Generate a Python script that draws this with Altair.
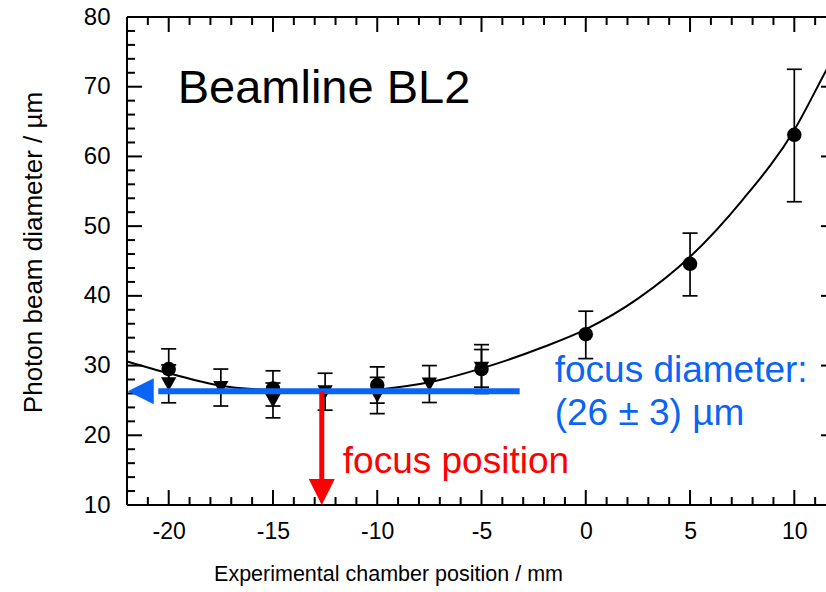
import altair as alt
import pandas as pd

# ---------------- data ----------------
circ_x = [-20, -15, -10, -5, 0, 5, 10]
circ_y = [29.5, 26.7, 27.2, 29.5, 34.5, 44.6, 63.1]
circ_lo = [26.5, 24.2, 24.6, 26.0, 31.0, 40.0, 53.5]
circ_hi = [32.4, 29.25, 29.8, 33.0, 37.8, 49.0, 72.5]

tri_x = [-20, -17.5, -15, -12.5, -10, -7.5, -5]
tri_y = [27.4, 26.85, 25.0, 26.25, 25.7, 27.35, 29.6]
tri_lo = [24.66, 24.2, 22.5, 23.6, 23.1, 24.7, 26.9]
tri_hi = [30.1, 29.5, 27.5, 28.9, 28.3, 30.0, 32.3]

fit_x = [-22, -20, -17.5, -15, -12.5, -10, -7.5, -5, -2, 0, 2.5, 5, 7.5, 10, 11.5, 12]
fit_y = [30.6, 28.9, 27.1, 26.45, 26.2, 26.55, 27.6, 29.6, 32.7, 35.2, 39.6, 45.6, 53.7, 63.8, 72.2, 75.0]

x_major = [-20, -15, -10, -5, 0, 5, 10]
x_minor = [-22, -21, -19, -18, -17, -16, -14, -13, -12, -11, -9, -8, -7, -6,
           -4, -3, -2, -1, 1, 2, 3, 4, 6, 7, 8, 9, 11]
y_major = [10, 20, 30, 40, 50, 60, 70, 80]
y_minor = [12, 14, 16, 18, 22, 24, 26, 28, 32, 34, 36, 38, 42, 44, 46, 48,
           52, 54, 56, 58, 62, 64, 66, 68, 72, 74, 76, 78]

focus_diameter = 26.3
focus_position = -12.66
arrow_blue_x = [-3.17, -20.5]
arrow_red_y = [26.3, 12.5]

# ---------------- layout / style ----------------
W, H = 699, 488
X_DOMAIN = [-22, 11.52]
Y_DOMAIN = [10, 80]
FONT = "Liberation Sans"
BLUE = "#0a64f5"
RED = "#ff0000"
PX_X = W / (X_DOMAIN[1] - X_DOMAIN[0])   # pixels per x unit
PX_Y = H / (Y_DOMAIN[1] - Y_DOMAIN[0])   # pixels per y unit
RIGHT_EDGE = X_DOMAIN[1] + 10 / PX_X     # frame lies just beyond the crop

xs = alt.Scale(domain=X_DOMAIN, nice=False, zero=False)
ys = alt.Scale(domain=Y_DOMAIN, nice=False, zero=False)

x_axis = alt.Axis(
    values=x_major, title="Experimental chamber position / mm",
    ticks=False, tickSize=0, domain=False, grid=False,
    labelFontSize=23, labelPadding=15, labelFont=FONT, labelColor="black",
    labelExpr="'' + datum.value",
    titleFont=FONT, titleFontSize=21.5, titleFontWeight="normal", titleColor="black",
    titleX=261, titleY=75, titleBaseline="alphabetic", titleAlign="center",
)
y_axis = alt.Axis(
    values=y_major, title="Photon beam diameter / µm",
    ticks=False, tickSize=0, domain=False, grid=False,
    labelFontSize=24, labelPadding=17, labelFont=FONT, labelColor="black",
    titleFont=FONT, titleFontSize=26, titleFontWeight="normal", titleColor="black",
    titleAngle=270, titleX=-94, titleY=235, titleBaseline="middle", titleAlign="center",
)


def X(field, **kw):
    return alt.X(field, type="quantitative", scale=xs, axis=x_axis, **kw)


def Y(field, **kw):
    return alt.Y(field, type="quantitative", scale=ys, axis=y_axis, **kw)


layers = []

# frame (left, top, bottom)
frame = pd.DataFrame({"k": [0]})
layers.append(alt.Chart(frame).mark_rule(color="black", strokeWidth=2).encode(
    x=alt.value(0), x2=alt.value(W + 10), y=alt.value(0)))
layers.append(alt.Chart(frame).mark_rule(color="black", strokeWidth=2).encode(
    x=alt.value(0), x2=alt.value(W + 10), y=alt.value(H)))
layers.append(alt.Chart(frame).mark_rule(color="black", strokeWidth=2).encode(
    x=alt.value(0), y=alt.value(0), y2=alt.value(H)))

# inward ticks on all four sides
tk_x1, tk_x2, tk_y1, tk_y2 = [], [], [], []
for vals, ln in [(x_major, 15), (x_minor, 8)]:
    for v in vals:
        tk_x1 += [v, v]
        tk_x2 += [v, v]
        tk_y1 += [Y_DOMAIN[0], Y_DOMAIN[1]]
        tk_y2 += [Y_DOMAIN[0] + ln / PX_Y, Y_DOMAIN[1] - ln / PX_Y]
for vals, ln in [(y_major, 15), (y_minor, 8)]:
    for v in vals:
        tk_x1 += [X_DOMAIN[0], RIGHT_EDGE]
        tk_x2 += [X_DOMAIN[0] + ln / PX_X, RIGHT_EDGE - ln / PX_X]
        tk_y1 += [v, v]
        tk_y2 += [v, v]
ticks = pd.DataFrame({"ax": tk_x1, "bx": tk_x2, "ay": tk_y1, "by": tk_y2})
layers.append(alt.Chart(ticks).mark_rule(color="black", strokeWidth=2).encode(
    x=X("ax"), x2=alt.X2("bx"), y=Y("ay"), y2=alt.Y2("by")))

# error bars
err = pd.DataFrame({"x": circ_x + tri_x, "lo": circ_lo + tri_lo, "hi": circ_hi + tri_hi})
layers.append(alt.Chart(err).mark_rule(color="black", strokeWidth=1.7).encode(
    x=X("x"), y=Y("lo"), y2=alt.Y2("hi")))
caps = pd.DataFrame({"x": circ_x + circ_x + tri_x + tri_x,
                     "y": circ_lo + circ_hi + tri_lo + tri_hi})
layers.append(alt.Chart(caps).mark_tick(color="black", orient="horizontal", size=15,
                                        thickness=1.7, opacity=1).encode(
    x=X("x"), y=Y("y")))

# fit curve
fit = pd.DataFrame({"x": fit_x, "y": fit_y})
layers.append(alt.Chart(fit).mark_line(color="black", strokeWidth=2, interpolate="monotone",
                                       clip=True).encode(x=X("x"), y=Y("y")))

# markers
circ = pd.DataFrame({"x": circ_x, "y": circ_y})
tri = pd.DataFrame({"x": tri_x, "y": tri_y})
layers.append(alt.Chart(tri).mark_point(shape="M-1,-0.85L1,-0.85L0,0.95Z", filled=True,
                                        size=235, color="black", opacity=1).encode(
    x=X("x"), y=Y("y")))
layers.append(alt.Chart(circ).mark_point(shape="circle", filled=True, size=210,
                                         color="black", opacity=1).encode(x=X("x"), y=Y("y")))

# blue arrow (focus diameter)
blue = pd.DataFrame({"x": arrow_blue_x, "y": [focus_diameter] * 2})
layers.append(alt.Chart(blue).mark_line(color=BLUE, strokeWidth=6).encode(x=X("x"), y=Y("y")))
blue_head = pd.DataFrame({"x": [-21.34], "y": [focus_diameter]})
layers.append(alt.Chart(blue_head).mark_point(shape="M-1,0L1,-1L1,1Z", filled=True, size=676,
                                              color=BLUE, opacity=1).encode(x=X("x"), y=Y("y")))

# red arrow (focus position)
red = pd.DataFrame({"x": [focus_position] * 2, "y": arrow_red_y})
layers.append(alt.Chart(red).mark_line(color=RED, strokeWidth=5).encode(x=X("x"), y=Y("y")))
red_head = pd.DataFrame({"x": [focus_position], "y": [11.85]})
layers.append(alt.Chart(red_head).mark_point(shape="M0,1L-1,-1L1,-1Z", filled=True, size=676,
                                             color=RED, opacity=1).encode(x=X("x"), y=Y("y")))


# annotations
def label(x, y, text, size, color):
    d = pd.DataFrame({"x": [x], "y": [y], "t": [text]})
    return alt.Chart(d).mark_text(align="left", baseline="alphabetic", font=FONT,
                                  fontSize=size, color=color).encode(
        x=X("x"), y=Y("y"), text="t:N")


layers.append(label(-19.57, 67.66, "Beamline BL2", 47, "black"))
layers.append(label(-1.49, 27.63, "focus diameter:", 37, BLUE))
layers.append(label(-1.49, 21.46, "(26 ± 3) µm", 37, BLUE))
layers.append(label(-11.65, 14.58, "focus position", 37, RED))

chart = alt.layer(*layers).properties(
    width=W, height=H,
    autosize=alt.AutoSizeParams(type="none"),
    padding={"left": 127, "top": 17, "right": 0, "bottom": 87},
    background="white",
).configure_view(stroke=None)

chart.save("out.html", embed_options={"renderer": "svg", "actions": False})
